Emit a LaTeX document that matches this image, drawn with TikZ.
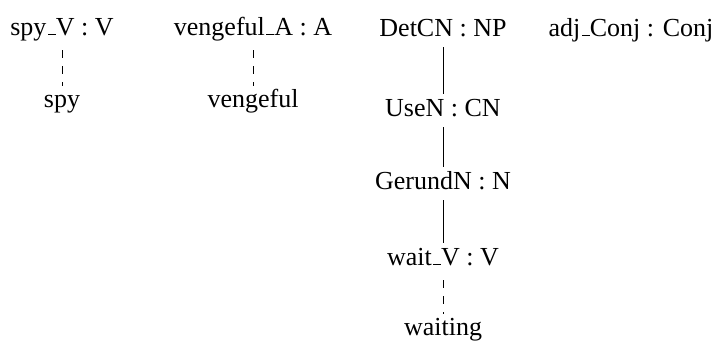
\documentclass[tikz,border=0pt]{standalone}
\usepackage{fontspec}
\setmainfont{Liberation Serif}
\usetikzlibrary{calc}
% low underscore in the classic LaTeX style
\newcommand\lowbar{\leavevmode\kern.06em\vbox{\hrule width .3em height .8pt}}
\tikzset{
  lbl/.style={anchor=base, inner sep=0pt, text height=18pt, text depth=6pt,
              font=\fontsize{26}{31}\selectfont},
  solidedge/.style={line width=0.9pt, shorten <=5pt, shorten >=4pt},
  leafedge/.style={line width=0.9pt, dash pattern=on 8pt off 8pt,
                   shorten <=9pt, shorten >=3pt},
}
\begin{document}
\begin{tikzpicture}[x=1pt, y=-1pt]
\useasboundingbox (0,0) rectangle (718,341);

% first tree: spy
\node[lbl] (spyV) at (62,35) {spy\lowbar V : V};
\node[lbl] (spy) at (62,107) {spy};
\draw[leafedge] (spyV.south) -- (spy.north);

% second tree: vengeful
\node[lbl] (vengA) at (253,35) {vengeful\lowbar A : A};
\node[lbl] (veng) at (253,107) {vengeful};
\draw[leafedge] (vengA.south) -- (veng.north);

% third tree: noun phrase
\node[lbl] (detcn) at (443,36) {DetCN : NP};
\node[lbl] (usen) at (443,116) {UseN : CN};
\node[lbl] (gerund) at (443,189) {GerundN : N};
\node[lbl] (waitV) at (443,265) {wait\lowbar V : V};
\node[lbl] (waiting) at (443,335) {waiting};
\draw[solidedge] (detcn.south) -- (usen.north);
\draw[solidedge] (usen.south) -- (gerund.north);
\draw[solidedge] (gerund.south) -- (waitV.north);
\draw[leafedge] (waitV.south) -- (waiting.north);

% fourth tree: conjunction
\node[lbl] (conj) at (631,36) {adj\lowbar Conj : Conj};
\end{tikzpicture}
\end{document}
